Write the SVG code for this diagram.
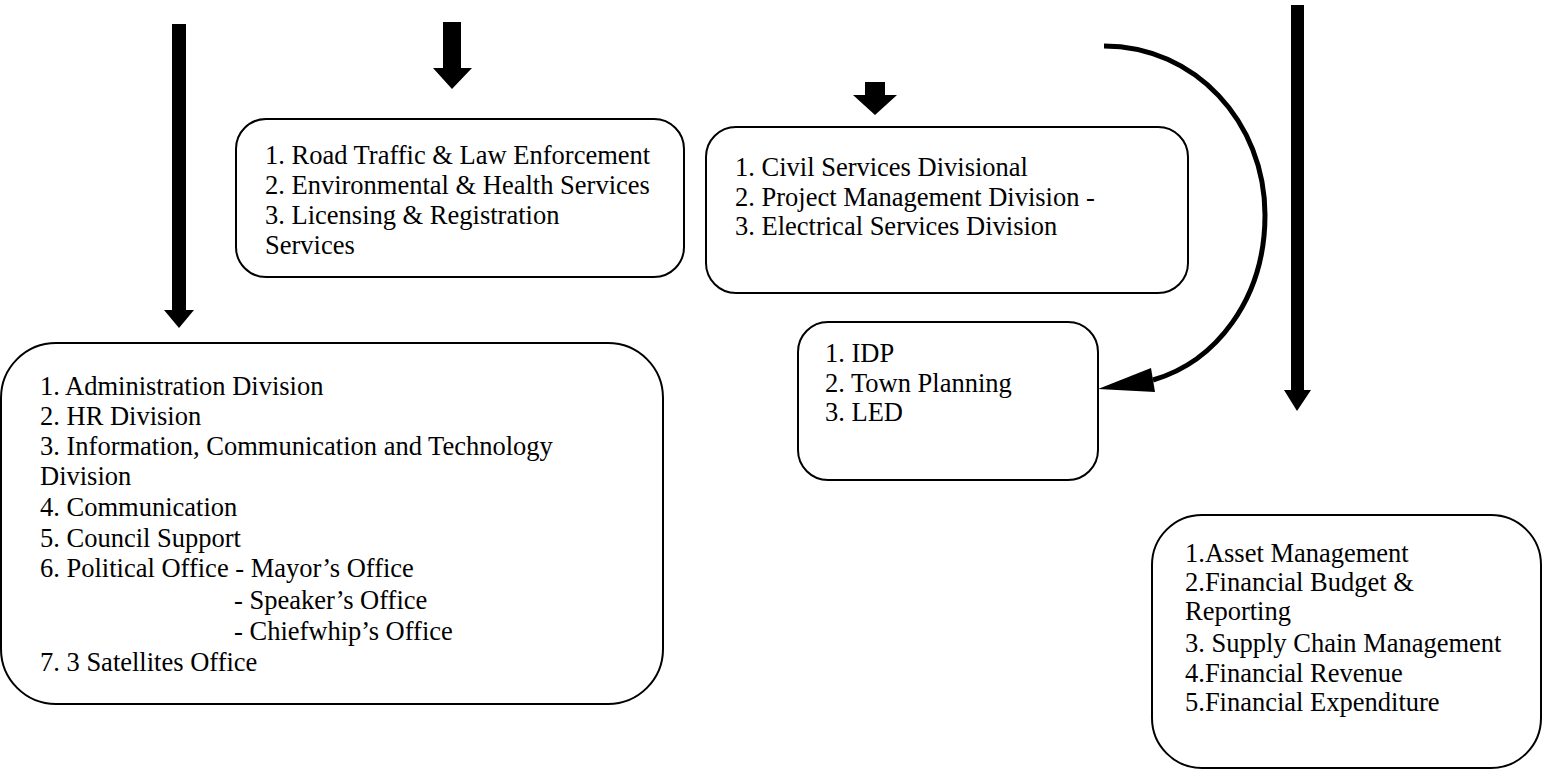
<svg xmlns="http://www.w3.org/2000/svg" width="1543" height="776" viewBox="0 0 1543 776">
<style>
.box{fill:#fff;stroke:#000;stroke-width:2}
.t{font-family:"Liberation Serif","Times New Roman",serif;font-size:26.5px;fill:#000}
.blk{fill:#000;stroke:none}
</style>
<rect width="1543" height="776" fill="#fff"/>
<g id="connectors">
<polygon class="blk" points="172,24 186,24 186,310 194,310 179,328 164,310 172,310"/>
<polygon class="blk" points="443,22 461,22 461,68 472,68 452,89 433,68 443,68"/>
<polygon class="blk" points="865,82 885,82 885,95 897,95 875,115 853,95 865,95"/>
<polygon class="blk" points="1291,5 1304,5 1304,390 1311,390 1297,411 1284,390 1291,390"/>
<path d="M1104,46 C1195,46 1265,122 1265,215 C1265,300 1215,362 1153,380" fill="none" stroke="#000" stroke-width="5"/>
<polygon class="blk" points="1151,368 1155,392 1098,389"/>
</g>
<g id="node-traffic">
<rect class="box" x="236" y="119" width="448" height="158" rx="30"/>
<text class="t" x="265" y="164">1. Road Traffic &amp; Law Enforcement</text>
<text class="t" x="265" y="194">2. Environmental &amp; Health Services</text>
<text class="t" x="265" y="224">3. Licensing &amp; Registration</text>
<text class="t" x="265" y="254">Services</text>
</g>
<g id="node-civil">
<rect class="box" x="706" y="127" width="482" height="166" rx="30"/>
<text class="t" x="735" y="176">1. Civil Services Divisional</text>
<text class="t" x="735" y="206">2. Project Management Division -</text>
<text class="t" x="735" y="235">3. Electrical Services Division</text>
</g>
<g id="node-idp">
<rect class="box" x="798" y="322" width="300" height="158" rx="30"/>
<text class="t" x="825" y="362">1. IDP</text>
<text class="t" x="825" y="392">2. Town Planning</text>
<text class="t" x="825" y="421">3. LED</text>
</g>
<g id="node-admin">
<rect class="box" x="1" y="343" width="662" height="361" rx="55"/>
<text class="t" x="40" y="395">1. Administration Division</text>
<text class="t" x="40" y="425">2. HR Division</text>
<text class="t" x="40" y="455">3. Information, Communication and Technology</text>
<text class="t" x="40" y="485">Division</text>
<text class="t" x="40" y="516">4. Communication</text>
<text class="t" x="40" y="547">5. Council Support</text>
<text class="t" x="40" y="577">6. Political Office - Mayor’s Office</text>
<text class="t" x="234" y="609">- Speaker’s Office</text>
<text class="t" x="234" y="640">- Chiefwhip’s Office</text>
<text class="t" x="40" y="671">7. 3 Satellites Office</text>
</g>
<g id="node-finance">
<rect class="box" x="1152" y="515" width="389" height="253" rx="50"/>
<text class="t" x="1185" y="562">1.Asset Management</text>
<text class="t" x="1185" y="591">2.Financial Budget &amp;</text>
<text class="t" x="1185" y="620">Reporting</text>
<text class="t" x="1185" y="652">3. Supply Chain Management</text>
<text class="t" x="1185" y="682">4.Financial Revenue</text>
<text class="t" x="1185" y="711">5.Financial Expenditure</text>
</g>
</svg>
